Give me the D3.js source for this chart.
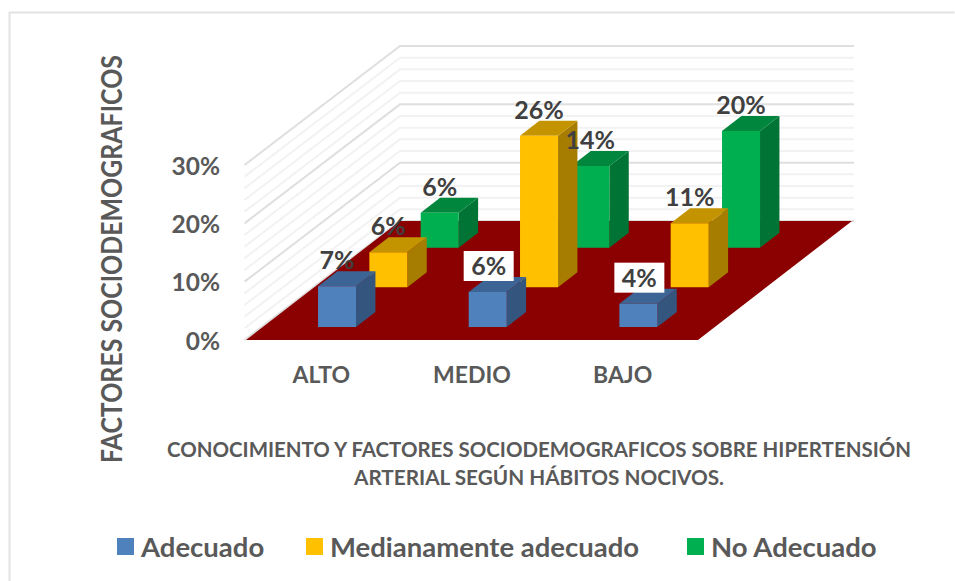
<!DOCTYPE html>
<html>
<head>
<meta charset="utf-8">
<script src="https://cdn.jsdelivr.net/npm/d3@7"></script>
<style>
  body { margin: 0; background: #fff; }
  text { font-family: Lato, "Open Sans", sans-serif; font-weight: 700; }
</style>
</head>
<body>
<div id="chart"></div>
<script>
// data
var categories = ["ALTO", "MEDIO", "BAJO"];
var seriesNames = ["Adecuado", "Medianamente adecuado", "No Adecuado"];
var adecuado = [7, 6, 4];
var medianamente = [6, 26, 11];
var noAdecuado = [6, 14, 20];
var yTicks = [0, 10, 20, 30];
var titleLines = ["CONOCIMIENTO Y FACTORES SOCIODEMOGRAFICOS SOBRE HIPERTENSIÓN",
                  "ARTERIAL SEGÚN HÁBITOS NOCIVOS."];
var yTitle = "FACTORES SOCIODEMOGRAFICOS";
var boxedLabels = ["Adecuado|MEDIO", "Adecuado|BAJO"];

var width = 955, height = 581;

// floor of the 3d box
var originX = 246, originY = 340,
    floorW = 452, floorD = 119,
    slant = 154 / 119;
var barW = 38, barD = 15, barInsetX = 55.2, barInsetZ = 13;

var colors = {
  "Adecuado": {front: "#4f81bd", top: "#3c6494", side: "#33557e"},
  "Medianamente adecuado": {front: "#ffc000", top: "#c49300", side: "#a67d00"},
  "No Adecuado": {front: "#00b050", top: "#00873d", side: "#007434"}
};

var svg = d3.select("#chart")
  .append("svg")
    .attr("width", width)
    .attr("height", height);

svg.append("path")
  .attr("d", "M954.5,12.5H9.5V581")
  .attr("fill", "none")
  .attr("stroke", "#e2e2e2")
  .attr("stroke-width", 2);

var x = d3.scaleBand().domain(categories).range([0, floorW]);
var z = d3.scaleBand().domain(seriesNames).range([0, floorD]);
var y = d3.scaleLinear().domain([0, 30]).range([0, 175]);

// 3d to screen
function px(fx, fz) { return originX + fx + fz * slant; }
function py(fz, h) { return originY - fz - h; }
function poly(points) {
  return d3.line().x(d => px(d[0], d[1])).y(d => py(d[1], d[2])).curve(d3.curveLinearClosed)(points);
}

// gridlines, minor every 2%
var grid = svg.append("g");
d3.range(0, 31, 2).forEach(v => {
  var major = v % 10 == 0;
  var c = major ? "#dfdfdf" : "#f2f2f2";
  grid.append("path")
    .attr("d", d3.line().x(d => px(d[0], d[1])).y(d => py(d[1], y(v)))([[-1.5, 0], [0, floorD], [floorW + 2, floorD]]))
    .attr("fill", "none")
    .attr("stroke", c)
    .attr("stroke-width", 2);
});

// floor
svg.append("path")
  .attr("d", poly([[0, 0, 0], [floorW, 0, 0], [floorW, floorD, 0], [0, floorD, 0]]))
  .attr("fill", "#8b0000");

// bars, back row first
var rows = [
  {name: "No Adecuado", values: noAdecuado},
  {name: "Medianamente adecuado", values: medianamente},
  {name: "Adecuado", values: adecuado}
];
var labels = [];

rows.forEach(row => {
  var col = colors[row.name];
  categories.forEach((cat, i) => {
    var x0 = x(cat) + barInsetX, x1 = x0 + barW,
        z0 = z(row.name) + barInsetZ, z1 = z0 + barD,
        h = y(row.values[i]);
    var g = svg.append("g");
    g.append("path").attr("d", poly([[x1, z0, 0], [x1, z1, 0], [x1, z1, h], [x1, z0, h]])).attr("fill", col.side);
    g.append("path").attr("d", poly([[x0, z0, h], [x1, z0, h], [x1, z1, h], [x0, z1, h]])).attr("fill", col.top);
    g.append("path").attr("d", poly([[x0, z0, 0], [x1, z0, 0], [x1, z0, h], [x0, z0, h]])).attr("fill", col.front);
    labels.push({
      text: row.values[i] + "%",
      cx: px(x0 + barW / 2, z0),
      top: py(z0, h),
      boxed: boxedLabels.indexOf(row.name + "|" + cat) >= 0
    });
  });
});

// value labels
labels.forEach(d => {
  var boxed = d.boxed;
  if (boxed) {
    svg.append("rect")
      .attr("x", d.cx - 24)
      .attr("y", d.top - 41)
      .attr("width", 50)
      .attr("height", 30)
      .attr("fill", "#fff");
  }
  svg.append("text")
    .attr("x", d.cx + (boxed ? 1 : 0))
    .attr("y", d.top - 17)
    .attr("text-anchor", "middle")
    .style("font-size", "25px")
    .attr("fill", "#404040")
    .text(d.text);
});

// y axis labels
var yAxisScale = d3.scaleLinear().domain([0, 30]).range([originY, originY - 175]);
var yAxis = svg.append("g")
  .attr("transform", "translate(220,0)")
  .call(d3.axisLeft(yAxisScale).tickValues(yTicks).tickSize(0).tickPadding(0).tickFormat(d => d + "%"));
yAxis.select(".domain").remove();
yAxis.selectAll("text")
  .attr("dy", "9px")
  .style("font-size", "24.5px")
  .style("font-family", "Lato")
  .style("font-weight", 700)
  .attr("fill", "#595959");

// category labels
var xAxis = svg.append("g")
  .attr("transform", "translate(" + originX + ",364)")
  .call(d3.axisBottom(x).tickSize(0).tickPadding(0));
xAxis.select(".domain").remove();
xAxis.selectAll("text")
  .attr("y", 19)
  .attr("dy", 0)
  .style("font-size", "23px")
  .style("font-family", "Lato")
  .style("font-weight", 700)
  .attr("fill", "#595959");

// y title, squeezed to the length in the picture
svg.append("text")
  .attr("transform", "translate(122,259) rotate(-90)")
  .attr("text-anchor", "middle")
  .attr("textLength", 408)
  .attr("lengthAdjust", "spacingAndGlyphs")
  .style("font-size", "28px")
  .attr("fill", "#595959")
  .text(yTitle);

// x title
var titleWidths = [744, 370];
titleLines.forEach((t, i) => {
  svg.append("text")
    .attr("x", 539)
    .attr("y", 457 + i * 28)
    .attr("text-anchor", "middle")
    .attr("textLength", titleWidths[i])
    .attr("lengthAdjust", "spacingAndGlyphs")
    .style("font-size", "21px")
    .attr("fill", "#595959")
    .text(t);
});

// legend
var legendX = d3.scaleOrdinal().domain(seriesNames).range([117, 306, 687]);
seriesNames.forEach(name => {
  svg.append("rect")
    .attr("x", legendX(name))
    .attr("y", 538)
    .attr("width", 17)
    .attr("height", 17)
    .attr("fill", colors[name].front);
  svg.append("text")
    .attr("x", legendX(name) + 24)
    .attr("y", 557)
    .style("font-size", "27.5px")
    .attr("fill", "#595959")
    .text(name);
});
</script>
</body>
</html>
